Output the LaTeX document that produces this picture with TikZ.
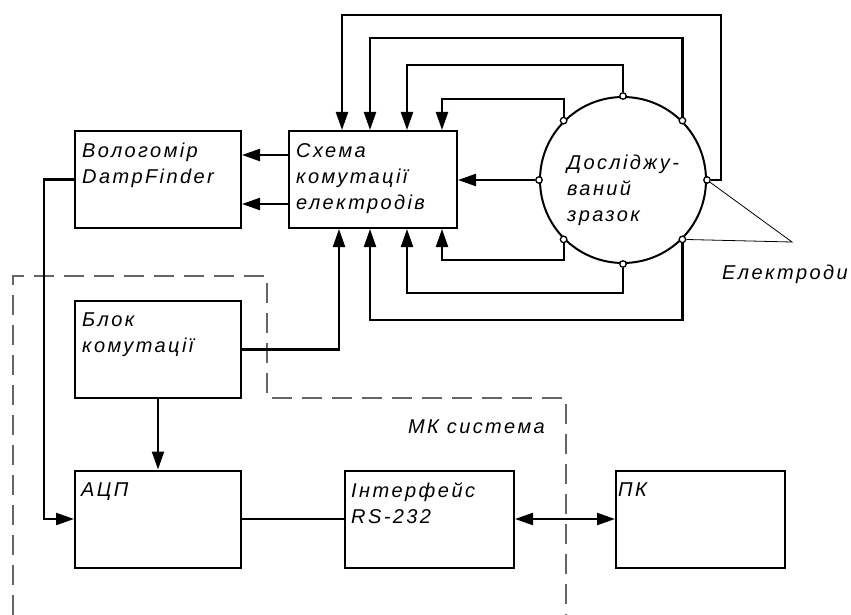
\documentclass[tikz,border=0pt]{standalone}
\usepackage{fontspec}
\usetikzlibrary{arrows.meta}
\newfontfamily\napysfont[LetterSpace=12]{Liberation Sans}

\begin{document}
\begin{tikzpicture}[x=1pt, y=-1pt, >={Triangle[length=18pt,width=12pt]},
  blok/.style={draw, line width=2pt, minimum width=166pt, minimum height=97pt, inner sep=0pt},
  napys/.style={font=\napysfont\itshape\fontsize{20}{26}\selectfont, align=left, inner sep=0pt},
  zv/.style={line width=2.2pt},
  elektrod/.style={draw, circle, fill=white, line width=1.3pt, minimum size=6.5pt, inner sep=0pt},
  ramka/.style={gray!80!black, line width=1.3pt, dash pattern=on 20pt off 10pt},
  vynoska/.style={line width=0.8pt}]
  \useasboundingbox (0,0) rectangle (851,615);

  % ramka MK systemy
  \draw[ramka] (13,615) -- (13,276) -- (267,276) -- (267,398) -- (566,398) -- (566,615);
  \node[napys, anchor=base east] (mk) at (545,433) {МК система};

  % bloky
  \node[blok, label={[napys, anchor=north west, xshift=8pt, yshift=-13pt]north west:{Вологомір\\DampFinder}}] (vol) at (158,179.5) {};
  \node[blok, minimum width=168pt, label={[napys, anchor=north west, xshift=8pt, yshift=-13pt]north west:{Схема\\комутації\\електродів}}] (sch) at (373,179.5) {};
  \node[blok, label={[napys, anchor=north west, xshift=8pt, yshift=-13pt]north west:{Блок\\комутації}}] (blk) at (158,349.5) {};
  \node[blok, label={[napys, anchor=north west, xshift=7pt, yshift=-13pt]north west:{АЦП}}] (adc) at (158,519) {};
  \node[blok, minimum width=169pt, label={[napys, anchor=north west, xshift=7pt, yshift=-13pt]north west:{Інтерфейс\\RS-232}}] (rs) at (429.5,519) {};
  \node[blok, minimum width=169pt, label={[napys, anchor=north west, xshift=3pt, yshift=-13pt]north west:{ПК}}] (pc) at (700.5,519) {};

  % zrazok z elektrodamy
  \node[circle, draw, line width=2pt, minimum size=166pt, inner sep=0pt,
    label={[napys, yshift=-10pt]center:{Досліджу-\\ваний\\зразок}}] (zrazok) at (623,180) {};
  \foreach \a in {0,45,...,315}
    \node[elektrod] (e\a) at (zrazok.\a) {};

  % zvjazky vid elektrodiv
  \draw[zv,->] (e135) -- ++(0,-22) -| ([xshift=69pt]sch.north);
  \draw[zv,->] (e90) -- ++(0,-31) -| ([xshift=34pt]sch.north);
  \draw[zv,->] (e45) -- ++(0,-83) -| ([xshift=-3pt]sch.north);
  \draw[zv,->] (e0) -- ++(14,0) -- ++(0,-165) -| ([xshift=-31pt]sch.north);
  \draw[zv,->] (e180) -- (e180 -| sch.east);
  \draw[zv,->] (e225) -- ++(0,21) -| ([xshift=69pt]sch.south);
  \draw[zv,->] (e270) -- ++(0,29) -| ([xshift=34pt]sch.south);
  \draw[zv,->] (e315) -- ++(0,81) -| ([xshift=-3pt]sch.south);

  % inshi zvjazky
  \draw[zv,->] ([yshift=24.5pt]sch.west) -- ([yshift=24.5pt]vol.east);
  \draw[zv,->] ([yshift=-24.5pt]sch.west) -- ([yshift=-24.5pt]vol.east);
  \draw[zv,->] (blk.east) -| ([xshift=-34pt]sch.south);
  \draw[zv,->] (vol.west) -- ++(-30,0) |- (adc.west);
  \draw[zv,->] (blk.south) -- (adc.north);
  \draw[zv] (adc.east) -- (rs.west);
  \draw[zv,<->] (rs.east) -- (pc.west);

  % vynoska
  \coordinate (vershyna) at (792,242);
  \draw[vynoska] (e0) -- (vershyna) -- (e315);
  \node[napys, anchor=base west] (elektrody) at (722,279) {Електроди};
\end{tikzpicture}
\end{document}
